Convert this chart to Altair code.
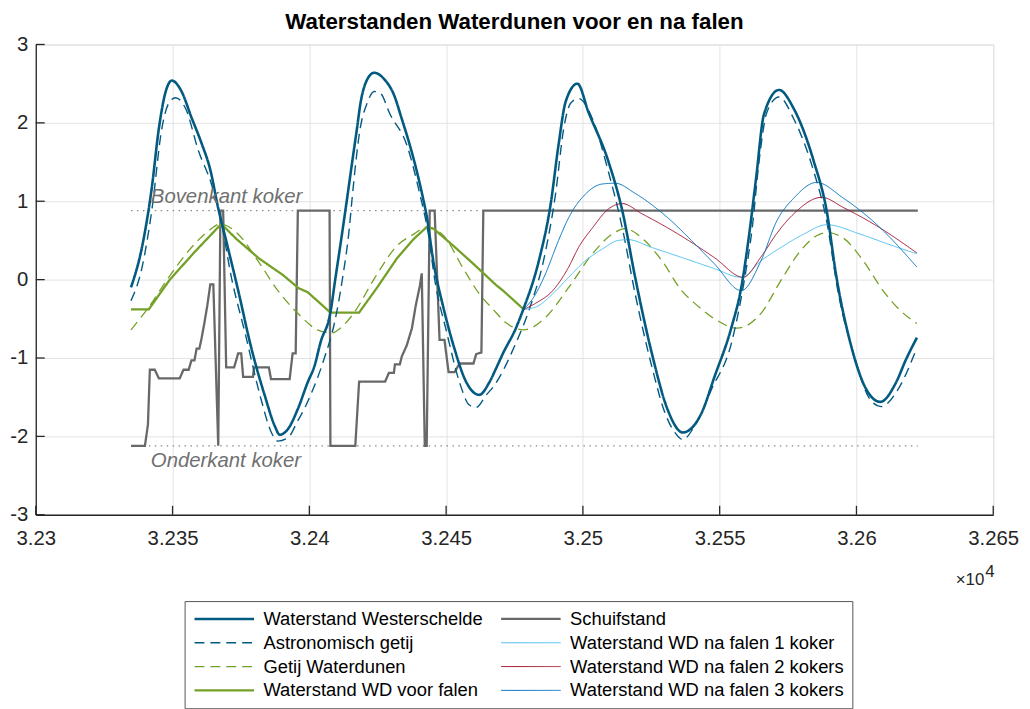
import altair as alt
import pandas as pd

# ---------------- data (x in raw units, shown as x10^4) ----------------
x_ticks = [32300, 32350, 32400, 32450, 32500, 32550, 32600, 32650]
y_ticks = [-3, -2, -1, 0, 1, 2, 3]

S_WS = "Waterstand Westerschelde"
S_AST = "Astronomisch getij"
S_GWD = "Getij Waterdunen"
S_VOOR = "Waterstand WD voor falen"
S_SCH = "Schuifstand"
S_F1 = "Waterstand WD na falen 1 koker"
S_F2 = "Waterstand WD na falen 2 kokers"
S_F3 = "Waterstand WD na falen 3 kokers"

ws_x = [32334.8, 32338.8, 32342.4, 32345.0, 32347.5, 32349.7, 32353.3, 32356.9, 32360.6, 32363.8,
        32366.7, 32369.3, 32374.0, 32378.7, 32383.8, 32387.4, 32389.2, 32392.1, 32395.8, 32399.4,
        32401.9, 32404.1, 32407.7, 32409.5, 32411.3, 32413.9, 32415.7, 32417.5, 32418.6, 32421.1,
        32423.7, 32427.3, 32430.9, 32433.8, 32436.7, 32439.3, 32441.8, 32442.9, 32445.4, 32449.1,
        32452.7, 32457.4, 32462.1, 32465.8, 32468.3, 32470.8, 32475.5, 32478.1, 32483.9, 32488.2,
        32491.1, 32493.7, 32498.0, 32502.0, 32509.3, 32514.4, 32519.1, 32525.2, 32531.0, 32536.5,
        32543.4, 32548.1, 32554.3, 32557.9, 32560.8, 32563.3, 32566.2, 32571.7, 32577.1, 32584.4,
        32589.1, 32592.7, 32597.8, 32603.6, 32608.7, 32614.5, 32618.1, 32622.1]
ws_v = [-0.10, 0.41, 1.17, 1.93, 2.40, 2.54, 2.40, 2.07, 1.74, 1.40,
        0.91, 0.54, -0.14, -0.86, -1.49, -1.87, -1.98, -1.91, -1.65, -1.31,
        -1.10, -0.80, -0.42, 0.01, 0.43, 1.06, 1.51, 1.95, 2.23, 2.55,
        2.64, 2.56, 2.36, 2.05, 1.72, 1.38, 1.00, 0.81, 0.22, -0.37,
        -0.84, -1.31, -1.47, -1.31, -1.13, -0.94, -0.62, -0.39, 0.24, 0.96,
        1.72, 2.27, 2.50, 2.14, 1.51, 0.88, 0.03, -0.94, -1.66, -1.95,
        -1.70, -1.24, -0.61, -0.10, 0.58, 1.29, 2.11, 2.42, 2.18, 1.51,
        0.88, 0.03, -0.81, -1.40, -1.56, -1.31, -1.02, -0.74]

ast_x = [32334.8, 32338.8, 32342.4, 32346.1, 32348.6, 32351.1, 32354.8, 32359.5, 32364.2, 32367.5,
         32371.5, 32376.5, 32382.3, 32386.0, 32388.5, 32392.1, 32395.8, 32398.3, 32400.5, 32405.5,
         32409.2, 32412.1, 32414.6, 32415.7, 32418.6, 32421.1, 32423.7, 32425.9, 32429.5, 32435.6,
         32440.4, 32443.6, 32445.8, 32450.2, 32454.9, 32458.5, 32461.0, 32464.7, 32467.2, 32475.5,
         32480.3, 32486.4, 32490.0, 32493.0, 32495.5, 32498.4, 32503.5, 32509.3, 32514.4, 32519.1,
         32525.2, 32530.0, 32533.6, 32536.5, 32540.8, 32547.0, 32554.3, 32559.0, 32561.9, 32564.4,
         32567.3, 32571.7, 32577.1, 32584.4, 32589.1, 32593.4, 32598.9, 32605.0, 32609.0, 32615.2,
         32622.1]
ast_v = [-0.27, 0.15, 0.88, 1.93, 2.25, 2.32, 2.18, 1.64, 1.22, 0.79,
         0.03, -0.68, -1.52, -1.94, -2.06, -2.02, -1.80, -1.64, -1.47, -1.00,
         -0.55, 0.01, 0.65, 1.06, 1.93, 2.25, 2.40, 2.38, 2.11, 1.72,
         1.09, 0.56, 0.01, -0.67, -1.31, -1.60, -1.63, -1.47, -1.37, -0.81,
         -0.39, 0.37, 1.09, 1.93, 2.25, 2.31, 2.05, 1.38, 0.66, -0.18,
         -1.11, -1.70, -1.95, -2.04, -1.87, -1.40, -0.81, -0.01, 0.66, 1.51,
         2.14, 2.33, 2.05, 1.38, 0.75, -0.18, -0.94, -1.53, -1.62, -1.40,
         -0.87]

gwd_x = [32334.8, 32341.3, 32348.6, 32356.9, 32363.1, 32367.5, 32374.0, 32381.2, 32388.5, 32395.8,
         32403.0, 32408.4, 32411.3, 32416.4, 32423.7, 32432.0, 32438.2, 32442.9, 32449.1, 32456.3,
         32462.1, 32467.2, 32471.9, 32478.4, 32486.4, 32494.8, 32503.5, 32510.7, 32515.4, 32521.6,
         32528.9, 32536.1, 32540.8, 32548.1, 32556.4, 32565.1, 32572.4, 32579.6, 32585.4, 32589.1,
         32595.2, 32602.5, 32609.7, 32615.9, 32622.1]
gwd_v = [-0.64, -0.35, 0.03, 0.41, 0.62, 0.71, 0.58, 0.24, -0.14, -0.43,
         -0.64, -0.68, -0.62, -0.42, 0.01, 0.43, 0.58, 0.67, 0.56, 0.14,
         -0.18, -0.38, -0.55, -0.64, -0.48, -0.10, 0.33, 0.58, 0.65, 0.53,
         0.24, -0.14, -0.30, -0.50, -0.62, -0.43, -0.01, 0.37, 0.56, 0.60,
         0.53, 0.24, -0.14, -0.39, -0.56]

voor_x = [32334.8, 32341.3, 32349.0, 32358.0, 32367.8, 32373.3, 32381.6, 32390.3, 32396.1, 32399.4,
          32407.7, 32418.2, 32424.8, 32432.0, 32438.2, 32442.9, 32445.4, 32452.7, 32460.0, 32468.3,
          32470.8, 32478.4]
voor_v = [-0.38, -0.38, 0.00, 0.35, 0.71, 0.52, 0.27, 0.06, -0.11, -0.16,
          -0.42, -0.42, -0.10, 0.27, 0.52, 0.67, 0.65, 0.43, 0.20, -0.07,
          -0.14, -0.38]

f1_x = [32478.4, 32482.8, 32489.0, 32494.8, 32500.9, 32507.1, 32512.9, 32516.5, 32525.2, 32537.2,
        32548.1, 32557.9, 32565.1, 32572.4, 32580.7, 32589.1, 32601.4, 32613.4, 32622.1]
f1_v = [-0.38, -0.35, -0.18, 0.03, 0.24, 0.39, 0.50, 0.51, 0.41, 0.27,
        0.14, 0.03, 0.24, 0.41, 0.58, 0.70, 0.58, 0.43, 0.33]

f2_x = [32478.4, 32482.8, 32489.0, 32494.8, 32498.4, 32503.5, 32509.3, 32514.4, 32521.6, 32531.0,
        32540.8, 32548.1, 32558.6, 32565.1, 32570.9, 32577.1, 32587.3, 32595.2, 32607.2, 32622.1]
f2_v = [-0.38, -0.30, -0.14, 0.16, 0.41, 0.66, 0.90, 0.97, 0.84, 0.66,
        0.45, 0.28, 0.03, 0.29, 0.59, 0.84, 1.05, 0.92, 0.69, 0.34]

f3_x = [32478.4, 32482.8, 32486.4, 32491.1, 32494.8, 32500.9, 32507.1, 32511.8, 32519.1, 32531.0,
        32540.8, 32548.1, 32557.9, 32565.1, 32570.9, 32577.1, 32585.4, 32595.2, 32607.2, 32622.1]
f3_v = [-0.38, -0.18, 0.08, 0.50, 0.79, 1.09, 1.22, 1.23, 1.10, 0.79,
        0.46, 0.20, -0.14, 0.24, 0.75, 1.04, 1.24, 1.04, 0.71, 0.16]

sch_x = [32334.8, 32339.9, 32341.0, 32341.7, 32343.5, 32345.0, 32352.6, 32354.0, 32355.9, 32356.9,
         32358.0, 32358.8, 32359.8, 32360.6, 32361.7, 32362.7, 32363.8, 32364.9, 32366.7, 32367.5,
         32368.5, 32369.6, 32372.5, 32374.0, 32375.1, 32375.8, 32379.4, 32379.8, 32385.2, 32386.0,
         32392.8, 32393.9, 32395.0, 32395.8, 32407.4, 32407.7, 32416.8, 32418.2, 32427.7, 32429.1,
         32430.9, 32431.3, 32433.1, 32433.8, 32435.6, 32437.5, 32438.9, 32440.4, 32441.1, 32442.2,
         32442.9, 32444.0, 32445.8, 32447.6, 32449.4, 32450.9, 32453.1, 32454.9, 32460.0, 32461.0,
         32462.9, 32463.6, 32622.4]
sch_v = [-2.12, -2.12, -1.85, -1.15, -1.15, -1.26, -1.26, -1.15, -1.15, -1.03,
         -1.03, -0.88, -0.88, -0.75, -0.54, -0.33, -0.06, -0.06, -2.12, 0.88,
         0.88, -1.12, -1.12, -0.94, -0.94, -1.24, -1.24, -1.12, -1.12, -1.27,
         -1.27, -0.94, -0.94, 0.88, 0.88, -2.12, -2.12, -1.30, -1.30, -1.19,
         -1.19, -1.08, -1.08, -0.98, -0.84, -0.62, -0.33, -0.08, 0.08, -2.12,
         -2.12, 0.88, 0.88, -0.77, -0.77, -1.18, -1.18, -1.07, -1.07, -0.95,
         -0.93, 0.88, 0.88]

ref_names = ["Bovenkant koker", "Onderkant koker"]
ref_levels = [0.88, -2.12]
ref_x = [32334.8, 32622.4]

# ---------------- styling ----------------
FONT = "Liberation Sans"
# legend fills column by column (4 rows x 2 columns)
legend_order = [S_WS, S_AST, S_GWD, S_VOOR, S_SCH, S_F1, S_F2, S_F3]
col_range = ["#035a80", "#035a80", "#74a027", "#74a027", "#686868", "#4dbeee", "#a2142f", "#0072bd"]
dash_range = [[1, 0], [10, 6], [10, 6], [1, 0], [1, 0], [1, 0], [1, 0], [1, 0]]
width_range = [2.6, 1.4, 1.3, 2.3, 2.3, 1.0, 1.0, 1.0]

def frame(name, xs, vs):
    return pd.DataFrame({"x": xs, "v": vs, "series": name})

smooth_df = pd.concat([frame(S_GWD, gwd_x, gwd_v), frame(S_AST, ast_x, ast_v),
                       frame(S_F1, f1_x, f1_v), frame(S_F2, f2_x, f2_v),
                       frame(S_F3, f3_x, f3_v), frame(S_WS, ws_x, ws_v)], ignore_index=True)
step_df = pd.concat([frame(S_SCH, sch_x, sch_v), frame(S_VOOR, voor_x, voor_v)], ignore_index=True)

xscale = alt.Scale(domain=[32300, 32650], nice=False, zero=False)
yscale = alt.Scale(domain=[-3, 3], nice=False, zero=False)

leg = alt.Legend(orient="none", legendX=150, legendY=561, columns=2, symbolType="stroke",
                 symbolSize=3600, labelFont=FONT, labelFontSize=18.5, labelColor="#000000",
                 labelOffset=8, columnPadding=16, rowPadding=5, clipHeight=19, padding=8.5,
                 strokeColor="#555555", fillColor="white", title=None, labelLimit=400)

xaxis = alt.Axis(values=x_ticks, labelExpr="format(datum.value/10000, '.3~f')", title=None,
                 grid=True, gridColor="#e3e3e3", ticks=False, domainColor="#262626",
                 domainWidth=1.3, labelFont=FONT, labelFontSize=20.5, labelColor="#262626",
                 labelPadding=14, labelFlush=False, labelOverlap=False)
yaxis = alt.Axis(values=y_ticks, labelExpr="'' + datum.value", title=None, grid=True,
                 gridColor="#e3e3e3", ticks=False,
                 domainColor="#262626", domainWidth=1.3, labelFont=FONT, labelFontSize=20.5,
                 labelColor="#262626", labelPadding=8, labelFlush=False, labelOverlap=False)

X = alt.X("x:Q", scale=xscale, axis=xaxis)
Y = alt.Y("v:Q", scale=yscale, axis=yaxis)

def enc(chart):
    return chart.encode(
        x=X, y=Y,
        color=alt.Color("series:N", scale=alt.Scale(domain=legend_order, range=col_range), legend=leg),
        strokeDash=alt.StrokeDash("series:N", scale=alt.Scale(type="ordinal", domain=legend_order, range=dash_range), legend=leg),
        strokeWidth=alt.StrokeWidth("series:N", scale=alt.Scale(type="ordinal", domain=legend_order, range=width_range), legend=leg),
        detail="series:N",
    )

step_layer = enc(alt.Chart(step_df).mark_line(interpolate="linear", strokeJoin="miter"))
smooth_layer = enc(alt.Chart(smooth_df).mark_line(interpolate="monotone"))

ref_rows = []
for n, lv in zip(ref_names, ref_levels):
    for xv in ref_x:
        ref_rows.append({"name": n, "x": xv, "v": lv})
ref_df = pd.DataFrame(ref_rows)
ref_lines = alt.Chart(ref_df).mark_line(strokeDash=[1.5, 4.5], color="#8a8a8a", strokeWidth=1.3).encode(
    x=X, y=Y, detail="name:N")

lab_df = pd.DataFrame({"name": ref_names, "v": ref_levels, "x": [ref_x[0], ref_x[0]]})
txt_style = dict(align="left", baseline="alphabetic", font=FONT, fontStyle="italic",
                 fontSize=20.5, color="#707070")
top_txt = alt.Chart(lab_df).transform_filter(alt.datum.name == ref_names[0]).mark_text(
    dx=20, dy=-8, **txt_style).encode(x=X, y=Y, text="name:N")
bot_txt = alt.Chart(lab_df).transform_filter(alt.datum.name == ref_names[1]).mark_text(
    dx=20, dy=21, **txt_style).encode(x=X, y=Y, text="name:N")

# inward tick marks (MATLAB style)
yt = alt.Chart(pd.DataFrame({"v": y_ticks})).mark_rule(color="#262626", strokeWidth=1.3).encode(
    y=Y, x=alt.value(0), x2=alt.value(9))
xt = alt.Chart(pd.DataFrame({"x": x_ticks})).mark_rule(color="#262626", strokeWidth=1.3).encode(
    x=X, y=alt.value(474), y2=alt.value(465))

exp_df = pd.DataFrame({"t": ["\u00d710"], "e": ["4"]})
exp1 = alt.Chart(exp_df).mark_text(align="right", baseline="alphabetic", font=FONT, fontSize=17,
                                   color="#262626").encode(text="t:N", x=alt.value(956), y=alt.value(545))
exp2 = alt.Chart(exp_df).mark_text(align="left", baseline="alphabetic", font=FONT, fontSize=17,
                                   color="#262626").encode(text="e:N", x=alt.value(957), y=alt.value(537))

chart = alt.layer(ref_lines, step_layer, smooth_layer, top_txt, bot_txt, yt, xt, exp1, exp2).properties(
    width=965, height=474,
    title=alt.TitleParams("Waterstanden Waterdunen voor en na falen", font=FONT, fontSize=22.5,
                          fontWeight="bold", color="#000000", anchor="middle", offset=1),
    autosize=alt.AutoSizeParams(type="none"),
    padding={"left": 28, "top": 34, "right": 29, "bottom": 193},
).configure_view(strokeWidth=0).configure(font=FONT)

chart.save("out.html", embed_options={"renderer": "svg", "actions": False})
